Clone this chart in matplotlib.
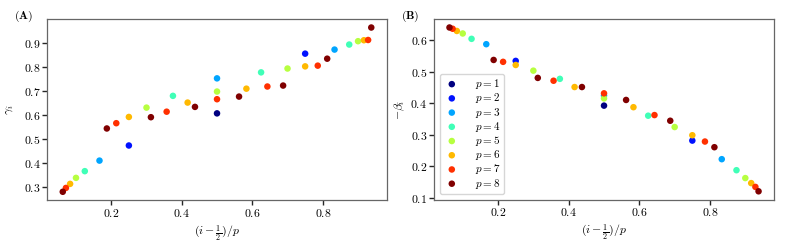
import numpy as np
import matplotlib
matplotlib.use("Agg")
from matplotlib import pyplot as plt

plt.rcParams["font.family"] = "serif"
plt.rcParams["font.serif"] = ["cmr10", "DejaVu Serif"]
plt.rcParams["mathtext.fontset"] = "cm"
plt.rcParams["axes.formatter.use_mathtext"] = True
plt.rcParams["font.size"] = 8.5

# optimal angles, one list per depth p
gammas = {
    1: [0.605],
    2: [0.471, 0.854],
    3: [0.408, 0.751, 0.871],
    4: [0.364, 0.678, 0.776, 0.892],
    5: [0.336, 0.629, 0.696, 0.792, 0.906],
    6: [0.311, 0.590, 0.650, 0.708, 0.801, 0.910],
    7: [0.294, 0.564, 0.612, 0.664, 0.717, 0.804, 0.911],
    8: [0.278, 0.542, 0.589, 0.632, 0.675, 0.721, 0.833, 0.963],
}
neg_betas = {
    1: [0.393],
    2: [0.535, 0.282],
    3: [0.588, 0.425, 0.223],
    4: [0.605, 0.478, 0.361, 0.188],
    5: [0.622, 0.504, 0.416, 0.325, 0.163],
    6: [0.630, 0.522, 0.452, 0.388, 0.299, 0.147],
    7: [0.637, 0.532, 0.472, 0.432, 0.363, 0.279, 0.135],
    8: [0.641, 0.538, 0.481, 0.452, 0.411, 0.345, 0.261, 0.121],
}
depths = list(gammas.keys())

colors = plt.cm.jet(np.linspace(0, 1, len(depths)))

fig = plt.figure(figsize=(7.85, 2.45), dpi=100)
axA = fig.add_axes([0.0603, 0.1837, 0.4323, 0.7375])
axB = fig.add_axes([0.5529, 0.1857, 0.4331, 0.7355])

for k, p in enumerate(depths):
    x = (np.arange(1, p + 1) - 0.5) / p
    axA.scatter(x, gammas[p], s=22, color=colors[k], edgecolors="none", zorder=3)
    axB.scatter(x, neg_betas[p], s=22, color=colors[k], edgecolors="none", zorder=3,
                label=r"$p = %d$" % p)

for ax in (axA, axB):
    for s in ax.spines.values():
        s.set_color("0.4")
        s.set_linewidth(0.9)
    ax.tick_params(direction="out", length=3.5, width=1.0, color="0.15", labelsize=8.5, pad=1.5)
    ax.set_xticks([0.2, 0.4, 0.6, 0.8])
    ax.set_xlabel(r"$(i-\frac{1}{2})/p$", fontsize=8.5, labelpad=3)

axA.set_yticks([0.3, 0.4, 0.5, 0.6, 0.7, 0.8, 0.9])
axB.set_yticks([0.1, 0.2, 0.3, 0.4, 0.5, 0.6])
axA.set_ylabel(r"$\gamma_i$", fontsize=8.5, labelpad=6)
axB.set_ylabel(r"$-\beta_i$", fontsize=8.5, labelpad=2.5)

leg = axB.legend(loc="lower left", fontsize=8, handletextpad=1.3, labelspacing=0.02,
                 borderpad=0.3, handlelength=1.6)
leg.get_frame().set_edgecolor("0.8")

fig.text(14 / 785, 1 - 16.5 / 245, r"$\mathbf{(A)}$", fontsize=8.5, va="center", ha="left")
fig.text(401 / 785, 1 - 16.5 / 245, r"$\mathbf{(B)}$", fontsize=8.5, va="center", ha="left")

fig.savefig("out.png", dpi=100)
